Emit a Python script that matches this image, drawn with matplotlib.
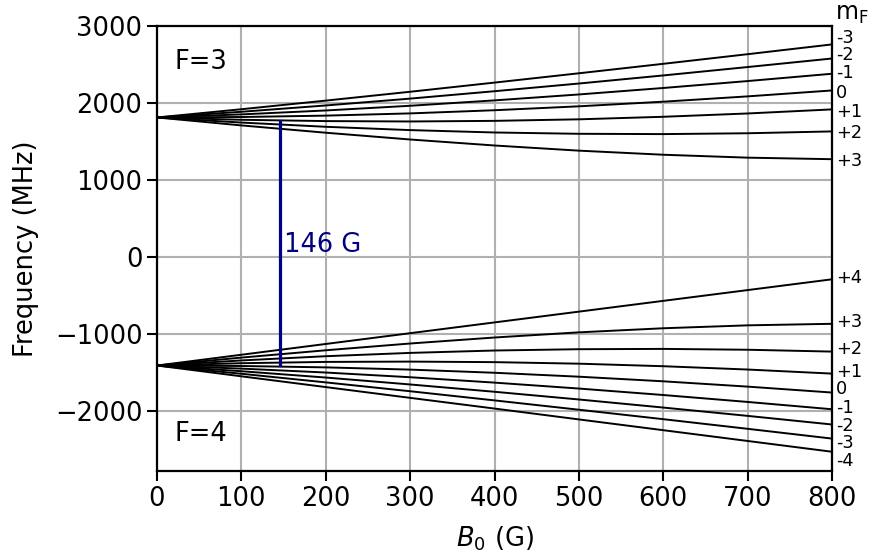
import matplotlib
matplotlib.use("Agg")
import matplotlib.pyplot as plt

# champ magnetique (G)
b_field = [0, 100, 200, 300, 400, 500, 600, 700, 800]

# niveaux F=3, m_F de -3 a +3 (MHz)
f3_levels = {
    "-3": [1812, 1919, 2031, 2146, 2265, 2386, 2509, 2634, 2761],
    "-2": [1812, 1886, 1968, 2057, 2153, 2253, 2358, 2467, 2578],
    "-1": [1812, 1852, 1903, 1964, 2034, 2111, 2195, 2285, 2380],
    "0":  [1812, 1818, 1836, 1865, 1906, 1957, 2017, 2086, 2163],
    "+1": [1812, 1782, 1765, 1760, 1768, 1788, 1821, 1864, 1917],
    "+2": [1812, 1746, 1691, 1648, 1617, 1600, 1596, 1607, 1631],
    "+3": [1812, 1709, 1614, 1526, 1448, 1381, 1328, 1290, 1270],
}

# niveaux F=4, m_F de +4 a -4 (MHz)
f4_levels = {
    "+4": [-1410, -1270, -1130, -990, -850, -710, -570, -430, -290],
    "+3": [-1410, -1307, -1212, -1124, -1046, -979, -926, -888, -868],
    "+2": [-1410, -1344, -1289, -1246, -1215, -1198, -1194, -1205, -1229],
    "+1": [-1410, -1380, -1363, -1359, -1366, -1386, -1419, -1462, -1515],
    "0":  [-1410, -1416, -1434, -1463, -1504, -1555, -1615, -1684, -1761],
    "-1": [-1410, -1450, -1501, -1562, -1632, -1709, -1793, -1883, -1978],
    "-2": [-1410, -1484, -1566, -1656, -1751, -1851, -1956, -2064, -2176],
    "-3": [-1410, -1517, -1629, -1744, -1863, -1984, -2107, -2232, -2359],
    "-4": [-1410, -1550, -1690, -1830, -1969, -2110, -2250, -2390, -2530],
}

# position des etiquettes m_F a droite (MHz)
f3_label_y = [2850, 2623, 2390, 2130, 1883, 1610, 1247]
f4_label_y = [-273, -844, -1200, -1490, -1720, -1960, -2190, -2420, -2650]

# transition marquee
b_mark = 146
mark_top, mark_bottom = 1766, -1403

fig = plt.figure(figsize=(8.75, 5.57), dpi=100)
ax = fig.add_axes([0.1794, 0.1544, 0.7715, 0.7989])

for vals in f3_levels.values():
    ax.plot(b_field, vals, color="black", lw=1.4)
for vals in f4_levels.values():
    ax.plot(b_field, vals, color="black", lw=1.4)

ax.plot([b_mark, b_mark], [mark_top, mark_bottom], color="navy", lw=2.3)
ax.text(b_mark + 5, 156, "146 G", color="navy", fontsize=18.5, va="center", ha="left")

ax.text(21, 2532, "F=3", fontsize=18.5, va="center", ha="left")
ax.text(21, -2299, "F=4", fontsize=18.5, va="center", ha="left")

# etiquettes m_F
for lab, y in zip(f3_levels.keys(), f3_label_y):
    ax.text(805, y, lab, fontsize=12.8, va="center", ha="left", clip_on=False)
for lab, y in zip(f4_levels.keys(), f4_label_y):
    ax.text(805, y, lab, fontsize=12.8, va="center", ha="left", clip_on=False)
ax.text(803, 3160, r"m$_\mathrm{F}$", fontsize=17, va="center", ha="left", clip_on=False)

ax.set_xlim(0, 800)
ax.set_ylim(-2780, 3000)
ax.set_xticks(range(0, 801, 100))
ax.set_yticks(range(-2000, 3001, 1000))
ax.tick_params(labelsize=18.5, width=1.5, length=7)
for sp in ax.spines.values():
    sp.set_linewidth(1.6)
ax.grid(True, color="#b0b0b0", lw=1.5)
ax.set_axisbelow(True)

ax.set_xlabel(r"$B_0$ (G)", fontsize=18.5, labelpad=9)
ax.set_ylabel("Frequency (MHz)", fontsize=18.5, labelpad=11)

fig.savefig("out.png", dpi=100)
